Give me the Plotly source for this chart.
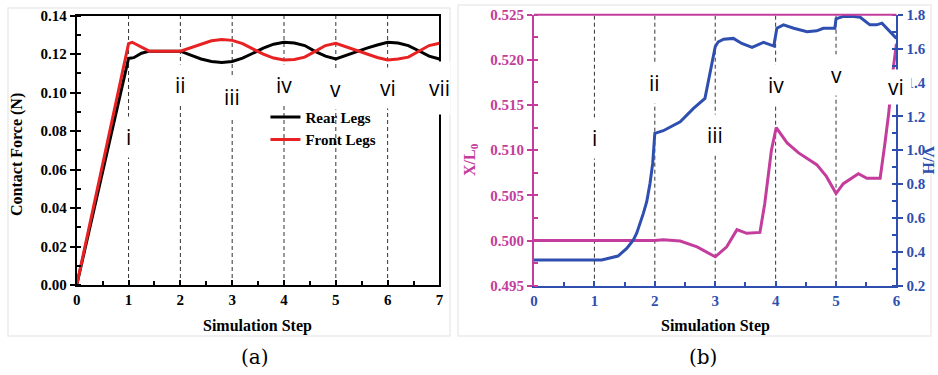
import plotly.graph_objects as go

# ---------------- data ----------------
# panel (a)
steps_rear = [0, 1.0, 1.1, 1.25, 1.4, 2.0, 2.2, 2.4, 2.6, 2.8, 3.0, 3.2, 3.4, 3.6, 3.8, 4.0,
              4.2, 4.4, 4.6, 4.8, 5.0, 5.2, 5.4, 5.6, 5.8, 6.0, 6.2, 6.4, 6.6, 6.8, 7.0]
rear_legs = [0, 0.1178, 0.1182, 0.1205, 0.1216, 0.1216, 0.1195, 0.1175, 0.1162, 0.1157, 0.1162,
             0.1180, 0.1205, 0.1232, 0.1252, 0.1262, 0.1258, 0.1245, 0.1215, 0.1190, 0.1175,
             0.1195, 0.1215, 0.1232, 0.1248, 0.1262, 0.1258, 0.1245, 0.1218, 0.1190, 0.1175]
steps_front = [0, 1.0, 1.07, 1.2, 1.4, 2.0, 2.2, 2.4, 2.6, 2.8, 3.0, 3.2, 3.4, 3.6, 3.8, 4.0,
               4.2, 4.4, 4.6, 4.8, 5.0, 5.2, 5.4, 5.6, 5.8, 6.0, 6.2, 6.4, 6.6, 6.8, 7.0]
front_legs = [0, 0.1255, 0.1262, 0.1245, 0.1216, 0.1216, 0.1235, 0.1255, 0.1270, 0.1277, 0.1272,
              0.1255, 0.1228, 0.1200, 0.1180, 0.1170, 0.1173, 0.1185, 0.1215, 0.1245, 0.1257,
              0.1238, 0.1220, 0.1200, 0.1183, 0.1170, 0.1175, 0.1185, 0.1215, 0.1245, 0.1257]
labels_a = ["i", "ii", "iii", "iv", "v", "vi", "vii"]
label_steps_a = [1, 2, 3, 4, 5, 6, 7]
label_heights_a = [0.077, 0.104, 0.0977, 0.104, 0.102, 0.1024, 0.1024]

# panel (b)
steps_x = [0, 2.0, 2.14, 2.42, 2.70, 2.89, 3.0, 3.19, 3.36, 3.52, 3.74, 3.82, 3.93, 4.01, 4.19,
           4.38, 4.68, 4.84, 5.0, 5.12, 5.37, 5.51, 5.73, 5.81, 5.87, 5.95, 6.0]
x_over_l0 = [0.5, 0.5, 0.5001, 0.49995, 0.4993, 0.4986, 0.4982, 0.4993, 0.5012, 0.5008, 0.5009,
             0.5041, 0.5100, 0.5125, 0.5108, 0.5097, 0.5084, 0.5071, 0.5052, 0.5063, 0.5074,
             0.5069, 0.5069, 0.5108, 0.5140, 0.5192, 0.5218]
steps_v = [0, 1.12, 1.39, 1.535, 1.645, 1.70, 1.81, 1.866, 1.92, 1.965, 2.0, 2.14, 2.42, 2.64,
           2.83, 2.94, 3.0, 3.05, 3.14, 3.30, 3.44, 3.61, 3.80, 3.97, 4.02, 4.13, 4.30, 4.52,
           4.68, 4.79, 4.98, 5.0, 5.12, 5.29, 5.40, 5.56, 5.67, 5.76, 5.90, 6.0]
v_over_h = [0.352, 0.352, 0.375, 0.42, 0.47, 0.51, 0.627, 0.696, 0.804, 0.922, 1.10, 1.115,
            1.168, 1.247, 1.306, 1.513, 1.611, 1.64, 1.655, 1.66, 1.63, 1.607, 1.637, 1.615,
            1.72, 1.74, 1.72, 1.70, 1.705, 1.72, 1.72, 1.775, 1.79, 1.79, 1.785, 1.74, 1.74,
            1.75, 1.70, 1.66]
labels_b = ["i", "ii", "iii", "iv", "v", "vi"]
label_steps_b = [1, 2, 3, 4, 5, 6]
label_heights_b = [1.072, 1.397, 1.09, 1.385, 1.444, 1.373]

PINK = "#c43d9c"
BLUE = "#2f4fb0"
RED = "#e82222"
SERIF = "Liberation Serif"
SANS = "Open Sans"

fig = go.Figure()

fig.add_trace(go.Scatter(x=steps_rear, y=rear_legs, mode="lines", name="Rear Legs",
                         line=dict(color="black", width=3), xaxis="x", yaxis="y"))
fig.add_trace(go.Scatter(x=steps_front, y=front_legs, mode="lines", name="Front Legs",
                         line=dict(color=RED, width=3), xaxis="x", yaxis="y"))
fig.add_trace(go.Scatter(x=steps_x, y=x_over_l0, mode="lines", showlegend=False,
                         line=dict(color=PINK, width=3), xaxis="x2", yaxis="y2"))
fig.add_trace(go.Scatter(x=steps_v, y=v_over_h, mode="lines", showlegend=False,
                         line=dict(color=BLUE, width=3), xaxis="x2", yaxis="y3"))


def tickfont(c):
    return dict(family=SERIF, size=15, color=c, weight="bold")


fig.update_layout(
    width=938, height=375, margin=dict(l=0, r=0, t=0, b=0, pad=0, autoexpand=False),
    paper_bgcolor="white", plot_bgcolor="rgba(0,0,0,0)",
    xaxis=dict(domain=[0.0818, 0.4685], range=[0, 7], anchor="y", automargin=False,
               showline=True, linecolor="black", linewidth=2, mirror=True,
               showgrid=False, zeroline=False, dtick=1, ticks="inside", ticklen=5,
               tickwidth=2, tickcolor="black",
               minor=dict(ticks="inside", dtick=0.5, ticklen=4, tickwidth=1.5, tickcolor="black"),
               tickfont=tickfont("black")),
    yaxis=dict(domain=[0.24, 0.958], range=[0, 0.14], anchor="x", automargin=False,
               showline=True, linecolor="black", linewidth=2, mirror=True,
               showgrid=False, zeroline=False, dtick=0.02, tickformat=".2f",
               ticks="outside", ticklen=5, tickwidth=2, tickcolor="black",
               minor=dict(ticks="inside", dtick=0.01, ticklen=4, tickwidth=1.5, tickcolor="black"),
               tickfont=tickfont("black")),
    xaxis2=dict(domain=[0.5693, 0.9557], range=[0, 6], anchor="y2", automargin=False,
                showline=True, linecolor=BLUE, linewidth=2,
                showgrid=False, zeroline=False, dtick=1, ticks="inside", ticklen=5,
                tickwidth=2, tickcolor=BLUE,
                minor=dict(ticks="inside", dtick=0.5, ticklen=4, tickwidth=1.5, tickcolor=BLUE),
                tickfont=tickfont(BLUE)),
    yaxis2=dict(domain=[0.2381, 0.9608], range=[0.495, 0.525], anchor="x2", automargin=False,
                showline=True, linecolor=PINK, linewidth=2,
                showgrid=False, zeroline=False, dtick=0.005, tickformat=".3f",
                ticks="outside", ticklen=5, tickwidth=2, tickcolor=PINK,
                minor=dict(ticks="inside", dtick=0.0025, ticklen=4, tickwidth=1.5, tickcolor=PINK),
                tickfont=tickfont(PINK)),
    yaxis3=dict(domain=[0.2381, 0.9608], range=[0.2, 1.8], anchor="x2", overlaying="y2",
                side="right", automargin=False,
                showline=True, linecolor=BLUE, linewidth=2,
                showgrid=False, zeroline=False, dtick=0.2, tickformat=".1f",
                ticks="outside", ticklen=5, tickwidth=2, tickcolor=BLUE,
                minor=dict(ticks="inside", dtick=0.1, ticklen=4, tickwidth=1.5, tickcolor=BLUE),
                tickfont=tickfont(BLUE)),
    legend=dict(x=0.283, y=0.7315, xanchor="left", yanchor="top",
                bgcolor="rgba(0,0,0,0)", borderwidth=0,
                font=dict(family=SERIF, size=15, color="black", weight="bold"),
                itemwidth=30, tracegroupgap=0),
    showlegend=True,
)

shapes = []
# faint panel frames
shapes.append(dict(type="rect", xref="paper", yref="paper", x0=8/938, x1=450/938,
                   y0=1-336/375, y1=1-8/375, line=dict(color="#ececec", width=1.5), layer="below"))
shapes.append(dict(type="rect", xref="paper", yref="paper", x0=458/938, x1=931/938,
                   y0=1-336/375, y1=1-5/375, line=dict(color="#ececec", width=1.5), layer="below"))
# dashed step lines
for s in label_steps_a[:-1]:
    shapes.append(dict(type="line", xref="x", yref="y domain", x0=s, x1=s, y0=0, y1=1,
                       line=dict(color="#333333", width=1, dash="4px,3px"), layer="below"))
for s in label_steps_b[:-1]:
    shapes.append(dict(type="line", xref="x2", yref="y2 domain", x0=s, x1=s, y0=0, y1=1,
                       line=dict(color="#333333", width=1, dash="4px,3px"), layer="below"))
# pink top frame of panel (b)
shapes.append(dict(type="line", xref="x2 domain", yref="y2 domain", x0=0, x1=1, y0=1, y1=1,
                   line=dict(color=PINK, width=2)))
fig.update_layout(shapes=shapes)

ann = []
for t, s, h in zip(labels_a, label_steps_a, label_heights_a):
    ann.append(dict(text=t, x=s, y=h, xref="x", yref="y", showarrow=False,
                    xanchor="center", yanchor="middle",
                    font=dict(family=SANS, size=21, color="black"),
                    bgcolor="white", height=40 if t != "vii" else 52, borderpad=0))
for t, s, h in zip(labels_b, label_steps_b, label_heights_b):
    extra = dict(width=30) if t == "vi" else {}
    ann.append(dict(text=t, x=s, y=h, xref="x2", yref="y3", showarrow=False,
                    xanchor="center", yanchor="middle",
                    font=dict(family=SANS, size=21, color="black"),
                    bgcolor="white", height=40 if t != "vi" else 34, borderpad=0, **extra))


def paper_text(text, px, py, size, color, family=SERIF, angle=0, bold=True):
    return dict(text=text, x=px/938, y=1-py/375, xref="paper", yref="paper",
                xanchor="center", yanchor="middle", textangle=angle, showarrow=False,
                font=dict(family=family, size=size, color=color,
                          weight="bold" if bold else "normal"))


ann.append(paper_text("Contact Force (N)", 17, 155, 16, "black", angle=-90))
ann.append(paper_text("Simulation Step", 257, 326, 16, "black"))
ann.append(paper_text("Simulation Step", 715, 326, 16, "black"))
ann.append(paper_text("X/L<sub>0</sub>", 470, 160, 16, PINK, angle=-90))
ann.append(paper_text("V/H", 929, 160, 16, BLUE, angle=90))
ann.append(paper_text("(a)", 255, 357, 20, "black", family="DejaVu Serif", bold=False))
ann.append(paper_text("(b)", 703, 357, 20, "black", family="DejaVu Serif", bold=False))
fig.update_layout(annotations=ann)

fig.write_html("out.html")
